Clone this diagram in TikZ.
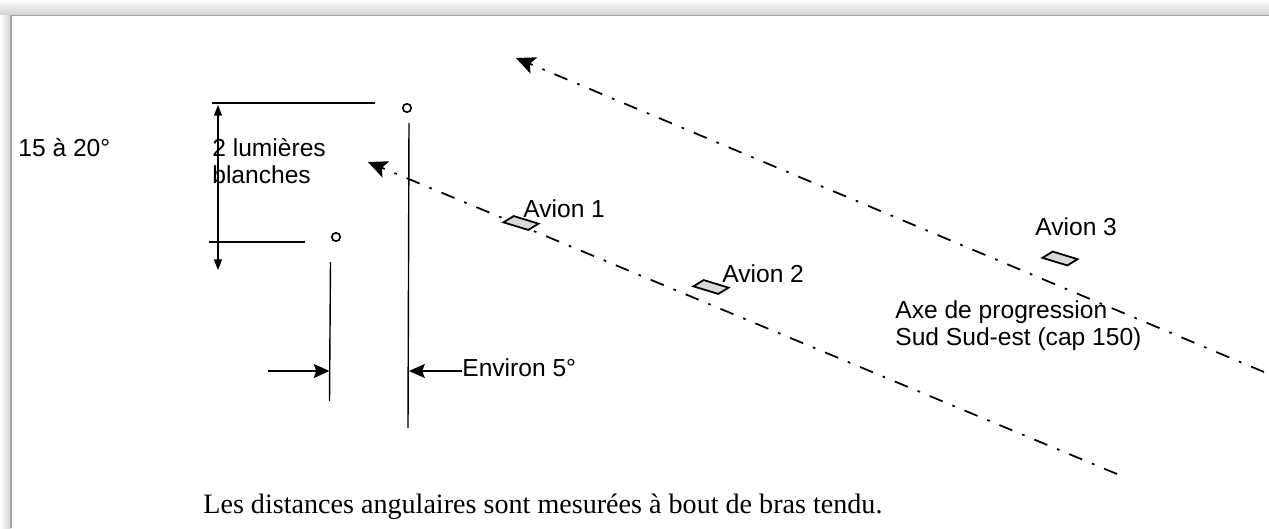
\documentclass[tikz,border=0pt]{standalone}
\usepackage{fontspec}
\setmainfont{Liberation Serif}
\setsansfont{Liberation Sans}
\usetikzlibrary{arrows.meta, positioning, calc}

\begin{document}
\begin{tikzpicture}[x=0.02cm, y=-0.02cm,
  lab/.style={font=\sffamily\fontsize{14}{16}\selectfont, inner sep=0pt, anchor=base west},
  light/.style={draw, circle, line width=0.9pt, minimum size=0.17cm, inner sep=0pt},
  trait/.style={line width=0.8pt},
  cote/.style={line width=0.8pt, {Triangle[length=6pt,width=4.5pt]}-{Triangle[length=6pt,width=4.5pt]}},
  fleche/.style={line width=0.8pt, -{Stealth[length=9pt,width=8pt,inset=1.5pt]}},
  axe/.style={line width=1pt, dash pattern=on 8pt off 6pt on 1.5pt off 6pt,
    -{Stealth[length=11pt,width=10pt,inset=2.5pt]}},
  avion/.pic={\filldraw[fill=gray!30, line width=1pt] (-17,4.5) -- (-9,-4.5) -- (17,-4.5) -- (9,4.5) -- cycle;}
]
\useasboundingbox (0,0) rectangle (1269,528);
% cadre
\shade[top color=white, bottom color=gray!35] (0,0) rectangle (1269,15);
\shade[left color=white, right color=gray!35] (0,15) rectangle (11,528);
\draw[gray!70, line width=1pt] (11,528) -- (11,15.5) -- (1269,15.5);

% les deux lumieres
\node[light] (haut) at (407,108) {};
\node[light] (bas) at (336,237) {};
\coordinate (hautG) at (212,103);
\coordinate (hautD) at (375,103);
\coordinate (basG) at (209,242);
\coordinate (basD) at (305,242);
\coordinate (vertH) at (409,123);
\coordinate (vertB) at (408,428);
\coordinate (courtH) at (330.5,262);
\coordinate (courtB) at (329.5,401);
\draw[trait] (hautG) -- (hautD);
\draw[trait] (basG) -- (basD);
\draw[trait] (vertH) -- (vertB);
\draw[trait] (courtH) -- (courtB);

% cote verticale
\coordinate (coteH) at (218,105);
\coordinate (coteB) at (218,270);
\draw[cote] (coteH) -- (coteB);
\node[lab] (angle) at (18,156) {15 à 20°};
\node[lab] (lum1) at (212,156) {2 lumières};
\node[lab] (lum2) at (212,183) {blanches};

% cote horizontale
\coordinate (gauche) at (268,371);
\coordinate (pointeG) at (329.5,371);
\coordinate (depart) at (462,371);
\coordinate (pointeD) at (409,371);
\draw[fleche] (gauche) -- (pointeG);
\draw[fleche] (depart) -- (pointeD);
\node[lab] (env) at (462,376) {Environ 5°};

% axes de progression
\coordinate (fin1) at (1117,474);
\coordinate (tete1) at (368,162);
\coordinate (fin2) at (1264,372);
\coordinate (tete2) at (516,58);
\draw[axe] (fin1) -- (tete1);
\draw[axe] (fin2) -- (tete2);

% avions
\pic[rotate=-17] at (521,223) {avion};
\pic[rotate=-17] at (711,287) {avion};
\pic[rotate=-17] at (1060,258.5) {avion};
\node[lab] (av1) at (523,217) {Avion 1};
\node[lab] (av2) at (722,282) {Avion 2};
\node[lab] (av3) at (1035,235) {Avion 3};
\node[lab] (cap1) at (895,318) {Axe de progression};
\node[lab] (cap2) at (895,345) {Sud Sud-est (cap 150)};

\node[font=\fontsize{16}{18}\selectfont, inner sep=0pt, anchor=base west] (legende) at (203,513)
  {Les distances angulaires sont mesurées à bout de bras tendu.};
\end{tikzpicture}
\end{document}
